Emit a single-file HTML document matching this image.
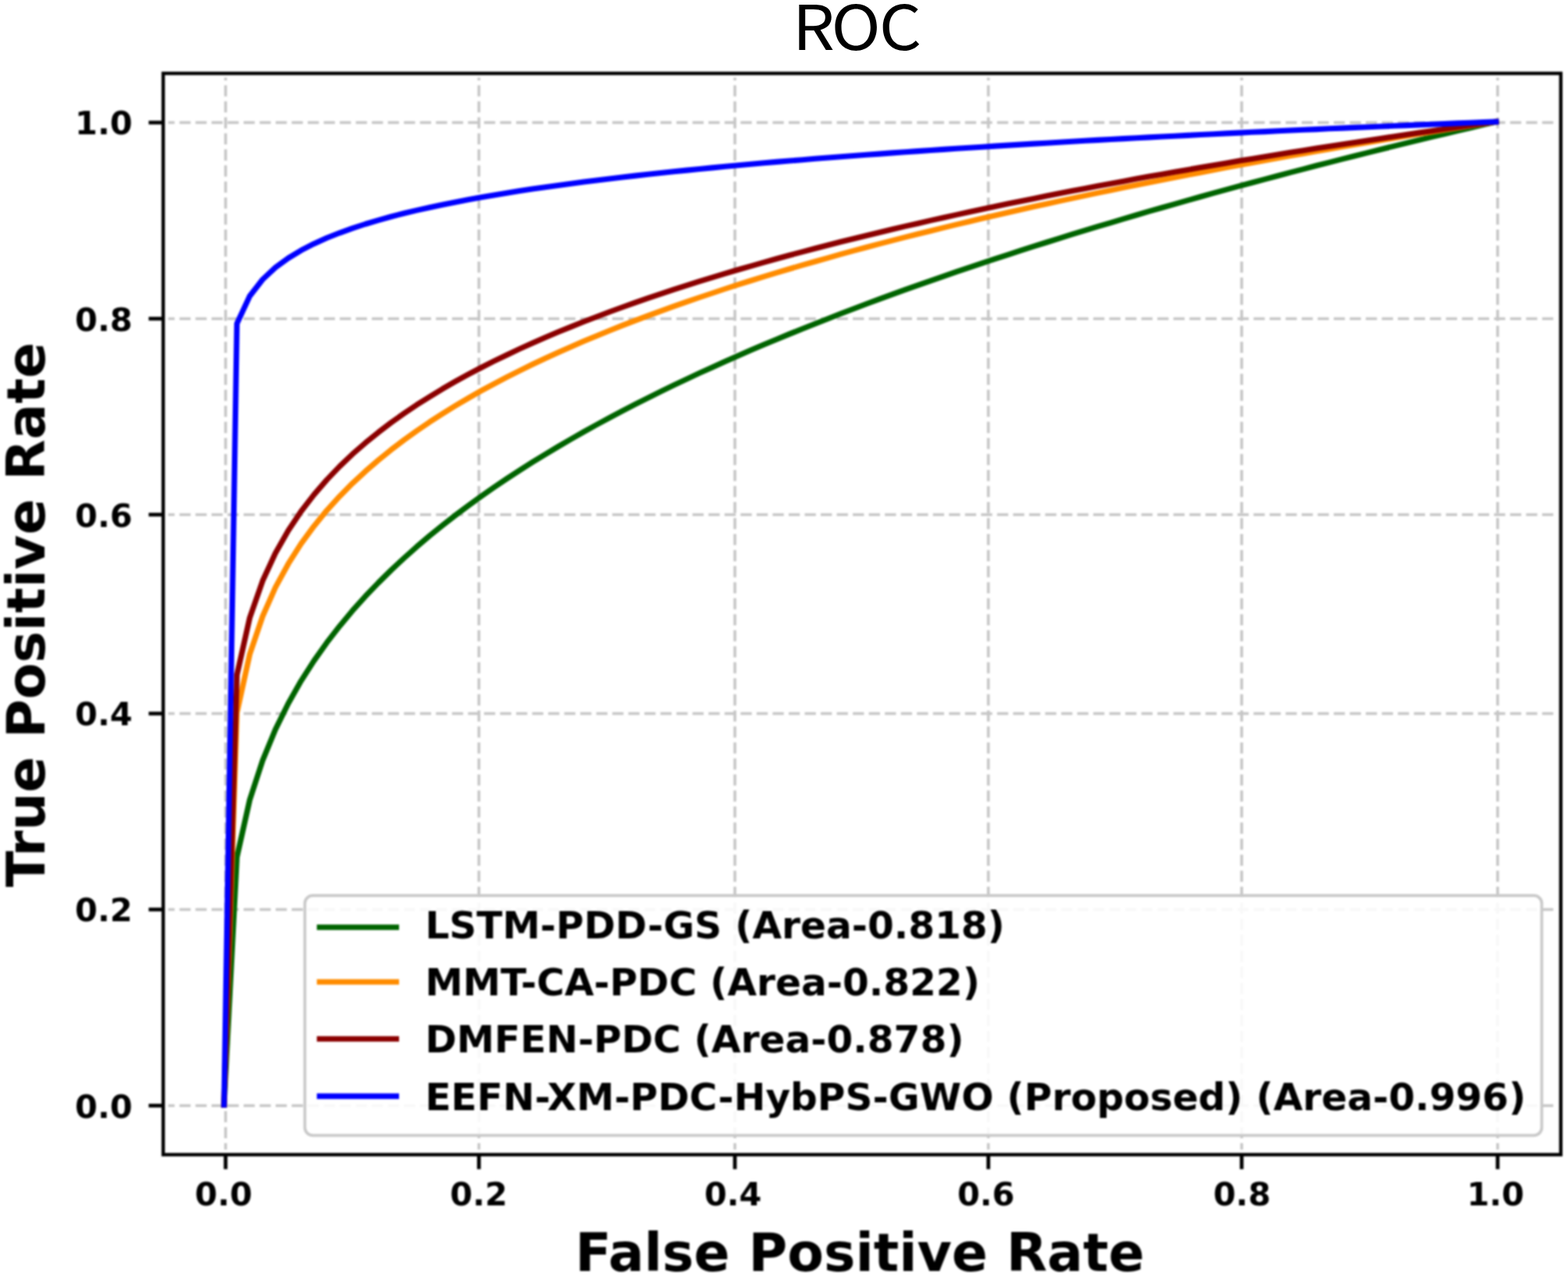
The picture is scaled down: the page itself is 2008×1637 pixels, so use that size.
<!DOCTYPE html>
<html lang="en"><head><meta charset="utf-8"><title>ROC</title>
<style>html,body{margin:0;padding:0;background:#fff;}body{width:2008px;height:1637px;}svg{display:block;}text{font-family:'DejaVu Sans','Liberation Sans',sans-serif;font-weight:bold;fill:#000;}.ttl{font-family:'Noto Sans CJK SC','Liberation Sans',sans-serif;font-weight:normal;}</style></head><body>
<svg width="2008" height="1637" viewBox="0 0 2008 1637">
<rect x="0" y="0" width="2008" height="1637" fill="#ffffff"/>
<filter id="soft" x="0" y="0" width="2008" height="1637" filterUnits="userSpaceOnUse" color-interpolation-filters="sRGB"><feGaussianBlur stdDeviation="0.80"/></filter>
<g filter="url(#soft)">
<rect x="0" y="0" width="2008" height="1637" fill="#ffffff"/>
<clipPath id="gc"><rect x="215.5" y="99.5" width="1776.8" height="1373.0"/></clipPath>
<g clip-path="url(#gc)" fill="none" stroke="#c6c6c6" stroke-width="3.60" stroke-dasharray="14.3 6.23">
<line x1="288.9" y1="1478.5" x2="288.9" y2="94.0"/>
<line x1="613.3" y1="1478.5" x2="613.3" y2="94.0"/>
<line x1="941.1" y1="1478.5" x2="941.1" y2="94.0"/>
<line x1="1265.7" y1="1478.5" x2="1265.7" y2="94.0"/>
<line x1="1590.1" y1="1478.5" x2="1590.1" y2="94.0"/>
<line x1="1917.9" y1="1478.5" x2="1917.9" y2="94.0"/>
<line x1="209.3" y1="1416.2" x2="1998.8" y2="1416.2"/>
<line x1="209.3" y1="1165.0" x2="1998.8" y2="1165.0"/>
<line x1="209.3" y1="914.0" x2="1998.8" y2="914.0"/>
<line x1="209.3" y1="659.2" x2="1998.8" y2="659.2"/>
<line x1="209.3" y1="408.2" x2="1998.8" y2="408.2"/>
<line x1="209.3" y1="157.0" x2="1998.8" y2="157.0"/>
</g>
<g transform="translate(-2 -1)" fill="none" stroke-width="7.10" stroke-linejoin="round" stroke-linecap="square">
<polyline stroke="#006400" points="288.9,1416.2 305.4,1098.9 321.8,1025.6 338.3,975.1 354.7,935.3 371.2,902.0 387.6,873.1 404.1,847.4 420.5,824.2 437.0,802.9 453.4,783.2 469.9,764.8 486.4,747.6 502.8,731.4 519.3,716.0 535.7,701.3 552.2,687.3 568.6,674.0 585.1,661.1 601.5,648.8 618.0,636.9 634.4,625.4 650.9,614.3 667.4,603.5 683.8,593.1 700.3,582.9 716.7,573.1 733.2,563.5 749.6,554.1 766.1,545.0 782.5,536.1 799.0,527.4 815.4,518.9 831.9,510.6 848.4,502.4 864.8,494.4 881.3,486.6 897.7,478.9 914.2,471.4 930.6,464.0 947.1,456.8 963.5,449.6 980.0,442.6 996.4,435.7 1012.9,428.9 1029.4,422.2 1045.8,415.7 1062.3,409.2 1078.7,402.8 1095.2,396.5 1111.6,390.3 1128.1,384.2 1144.5,378.2 1161.0,372.2 1177.4,366.4 1193.9,360.6 1210.4,354.8 1226.8,349.2 1243.3,343.6 1259.7,338.1 1276.2,332.6 1292.6,327.3 1309.1,321.9 1325.5,316.7 1342.0,311.5 1358.4,306.3 1374.9,301.2 1391.4,296.2 1407.8,291.2 1424.3,286.3 1440.7,281.4 1457.2,276.5 1473.6,271.7 1490.1,267.0 1506.5,262.3 1523.0,257.6 1539.4,253.0 1555.9,248.4 1572.4,243.9 1588.8,239.4 1605.3,235.0 1621.7,230.6 1638.2,226.2 1654.6,221.9 1671.1,217.6 1687.5,213.3 1704.0,209.1 1720.4,204.9 1736.9,200.7 1753.4,196.6 1769.8,192.5 1786.3,188.4 1802.7,184.4 1819.2,180.4 1835.6,176.4 1852.1,172.5 1868.5,168.6 1885.0,164.7 1901.4,160.8 1917.9,157.0"/>
<polyline stroke="#ff8c00" points="288.9,1416.2 305.4,913.9 321.8,839.2 338.3,790.5 354.7,753.4 371.2,723.2 387.6,697.4 404.1,674.9 420.5,654.8 437.0,636.7 453.4,620.1 469.9,604.8 486.4,590.5 502.8,577.2 519.3,564.7 535.7,552.9 552.2,541.6 568.6,531.0 585.1,520.8 601.5,511.1 618.0,501.7 634.4,492.8 650.9,484.1 667.4,475.8 683.8,467.8 700.3,460.0 716.7,452.5 733.2,445.2 749.6,438.1 766.1,431.2 782.5,424.5 799.0,417.9 815.4,411.6 831.9,405.4 848.4,399.3 864.8,393.4 881.3,387.6 897.7,382.0 914.2,376.5 930.6,371.0 947.1,365.7 963.5,360.5 980.0,355.4 996.4,350.4 1012.9,345.5 1029.4,340.7 1045.8,336.0 1062.3,331.3 1078.7,326.7 1095.2,322.2 1111.6,317.8 1128.1,313.4 1144.5,309.1 1161.0,304.9 1177.4,300.8 1193.9,296.7 1210.4,292.6 1226.8,288.6 1243.3,284.7 1259.7,280.8 1276.2,277.0 1292.6,273.2 1309.1,269.5 1325.5,265.8 1342.0,262.2 1358.4,258.6 1374.9,255.1 1391.4,251.6 1407.8,248.1 1424.3,244.7 1440.7,241.3 1457.2,238.0 1473.6,234.7 1490.1,231.4 1506.5,228.2 1523.0,225.0 1539.4,221.9 1555.9,218.7 1572.4,215.6 1588.8,212.6 1605.3,209.5 1621.7,206.5 1638.2,203.6 1654.6,200.6 1671.1,197.7 1687.5,194.8 1704.0,192.0 1720.4,189.1 1736.9,186.3 1753.4,183.5 1769.8,180.8 1786.3,178.0 1802.7,175.3 1819.2,172.6 1835.6,170.0 1852.1,167.3 1868.5,164.7 1885.0,162.1 1901.4,159.6 1917.9,157.0"/>
<polyline stroke="#8b0000" points="288.9,1416.2 305.4,865.5 321.8,792.4 338.3,745.1 354.7,709.5 371.2,680.5 387.6,656.0 404.1,634.6 420.5,615.6 437.0,598.4 453.4,582.7 469.9,568.3 486.4,554.9 502.8,542.4 519.3,530.7 535.7,519.6 552.2,509.2 568.6,499.2 585.1,489.7 601.5,480.7 618.0,472.0 634.4,463.7 650.9,455.7 667.4,447.9 683.8,440.5 700.3,433.3 716.7,426.3 733.2,419.6 749.6,413.0 766.1,406.7 782.5,400.5 799.0,394.5 815.4,388.6 831.9,382.9 848.4,377.4 864.8,371.9 881.3,366.6 897.7,361.4 914.2,356.4 930.6,351.4 947.1,346.5 963.5,341.8 980.0,337.1 996.4,332.5 1012.9,328.0 1029.4,323.6 1045.8,319.3 1062.3,315.0 1078.7,310.8 1095.2,306.7 1111.6,302.7 1128.1,298.7 1144.5,294.8 1161.0,290.9 1177.4,287.2 1193.9,283.4 1210.4,279.7 1226.8,276.1 1243.3,272.5 1259.7,269.0 1276.2,265.5 1292.6,262.1 1309.1,258.7 1325.5,255.4 1342.0,252.1 1358.4,248.8 1374.9,245.6 1391.4,242.5 1407.8,239.3 1424.3,236.2 1440.7,233.2 1457.2,230.1 1473.6,227.1 1490.1,224.2 1506.5,221.3 1523.0,218.4 1539.4,215.5 1555.9,212.7 1572.4,209.9 1588.8,207.1 1605.3,204.4 1621.7,201.7 1638.2,199.0 1654.6,196.3 1671.1,193.7 1687.5,191.1 1704.0,188.5 1720.4,185.9 1736.9,183.4 1753.4,180.9 1769.8,178.4 1786.3,176.0 1802.7,173.5 1819.2,171.1 1835.6,168.7 1852.1,166.3 1868.5,164.0 1885.0,161.6 1901.4,159.3 1917.9,157.0"/>
<polyline stroke="#0000ff" points="288.9,1416.2 305.4,415.5 321.8,380.2 338.3,359.0 354.7,343.7 371.2,331.6 387.6,321.7 404.1,313.2 420.5,305.8 437.0,299.3 453.4,293.4 469.9,288.0 486.4,283.1 502.8,278.5 519.3,274.3 535.7,270.4 552.2,266.7 568.6,263.2 585.1,259.9 601.5,256.8 618.0,253.8 634.4,250.9 650.9,248.2 667.4,245.6 683.8,243.1 700.3,240.7 716.7,238.4 733.2,236.2 749.6,234.1 766.1,232.0 782.5,230.0 799.0,228.0 815.4,226.1 831.9,224.3 848.4,222.5 864.8,220.8 881.3,219.1 897.7,217.5 914.2,215.9 930.6,214.3 947.1,212.8 963.5,211.3 980.0,209.8 996.4,208.4 1012.9,207.0 1029.4,205.7 1045.8,204.3 1062.3,203.0 1078.7,201.8 1095.2,200.5 1111.6,199.3 1128.1,198.1 1144.5,196.9 1161.0,195.7 1177.4,194.6 1193.9,193.5 1210.4,192.4 1226.8,191.3 1243.3,190.2 1259.7,189.2 1276.2,188.1 1292.6,187.1 1309.1,186.1 1325.5,185.1 1342.0,184.2 1358.4,183.2 1374.9,182.3 1391.4,181.3 1407.8,180.4 1424.3,179.5 1440.7,178.6 1457.2,177.8 1473.6,176.9 1490.1,176.0 1506.5,175.2 1523.0,174.4 1539.4,173.5 1555.9,172.7 1572.4,171.9 1588.8,171.1 1605.3,170.3 1621.7,169.6 1638.2,168.8 1654.6,168.0 1671.1,167.3 1687.5,166.6 1704.0,165.8 1720.4,165.1 1736.9,164.4 1753.4,163.7 1769.8,163.0 1786.3,162.3 1802.7,161.6 1819.2,160.9 1835.6,160.3 1852.1,159.6 1868.5,158.9 1885.0,158.3 1901.4,157.6 1917.9,157.0"/>
</g>
<g stroke="#000" stroke-width="4.80" fill="none">
<line x1="288.9" y1="1479.0" x2="288.9" y2="1497.6"/>
<line x1="613.3" y1="1479.0" x2="613.3" y2="1497.6"/>
<line x1="941.1" y1="1479.0" x2="941.1" y2="1497.6"/>
<line x1="1265.7" y1="1479.0" x2="1265.7" y2="1497.6"/>
<line x1="1590.1" y1="1479.0" x2="1590.1" y2="1497.6"/>
<line x1="1917.9" y1="1479.0" x2="1917.9" y2="1497.6"/>
<line x1="209.0" y1="1416.2" x2="190.4" y2="1416.2"/>
<line x1="209.0" y1="1165.0" x2="190.4" y2="1165.0"/>
<line x1="209.0" y1="914.0" x2="190.4" y2="914.0"/>
<line x1="209.0" y1="659.2" x2="190.4" y2="659.2"/>
<line x1="209.0" y1="408.2" x2="190.4" y2="408.2"/>
<line x1="209.0" y1="157.0" x2="190.4" y2="157.0"/>
</g>
<rect x="209.0" y="94.0" width="1789.8" height="1385.0" fill="none" stroke="#000" stroke-width="4.40"/>
<g font-size="41.5">
<text x="286.3" y="1543.5" text-anchor="middle">0.0</text>
<text x="613.1" y="1543.5" text-anchor="middle">0.2</text>
<text x="938.7" y="1543.5" text-anchor="middle">0.4</text>
<text x="1262.7" y="1543.5" text-anchor="middle">0.6</text>
<text x="1590.5" y="1543.5" text-anchor="middle">0.8</text>
<text x="1915.2" y="1543.5" text-anchor="middle">1.0</text>
<text x="169.6" y="1431.5" text-anchor="end">0.0</text>
<text x="169.6" y="1180.3" text-anchor="end">0.2</text>
<text x="169.6" y="929.3" text-anchor="end">0.4</text>
<text x="169.6" y="674.5" text-anchor="end">0.6</text>
<text x="169.6" y="423.5" text-anchor="end">0.8</text>
<text x="169.6" y="172.3" text-anchor="end">1.0</text>
</g>
<text x="1101.0" y="1627.5" font-size="68" text-anchor="middle">False Positive Rate</text>
<text transform="translate(56.7 787.3) rotate(-90)" font-size="68" text-anchor="middle">True Positive Rate</text>
<rect x="390.4" y="1147.2" width="1584" height="307.1" rx="10" ry="10" fill="#ffffff" fill-opacity="0.87" stroke="#c9c9c9" stroke-width="3.7"/>
<line x1="409.3" y1="1187.8" x2="507.5" y2="1187.8" stroke="#006400" stroke-width="7.10" stroke-linecap="square"/>
<text x="544.4" y="1201.8" font-size="48.6">LSTM-PDD-GS (Area-0.818)</text>
<line x1="409.3" y1="1257.8" x2="507.5" y2="1257.8" stroke="#ff8c00" stroke-width="7.10" stroke-linecap="square"/>
<text x="544.4" y="1275.1" font-size="48.6">MMT-CA-PDC (Area-0.822)</text>
<line x1="409.3" y1="1330.8" x2="507.5" y2="1330.8" stroke="#8b0000" stroke-width="7.10" stroke-linecap="square"/>
<text x="544.4" y="1348.2" font-size="48.6">DMFEN-PDC (Area-0.878)</text>
<line x1="409.3" y1="1404.1" x2="507.5" y2="1404.1" stroke="#0000ff" stroke-width="7.10" stroke-linecap="square"/>
<text x="544.4" y="1421.5" font-size="48.6">EEFN-XM-PDC-HybPS-GWO (Proposed) (Area-0.996)</text>
</g>
<filter id="soft2" x="900" y="0" width="400" height="90" filterUnits="userSpaceOnUse" color-interpolation-filters="sRGB"><feGaussianBlur stdDeviation="0.45"/></filter>
<g filter="url(#soft2)"><text class="ttl" transform="translate(1014.7 64.3) scale(1.08 1)" font-size="79" dx="0 -4.1 -1.8">ROC</text></g>
</svg></body></html>
